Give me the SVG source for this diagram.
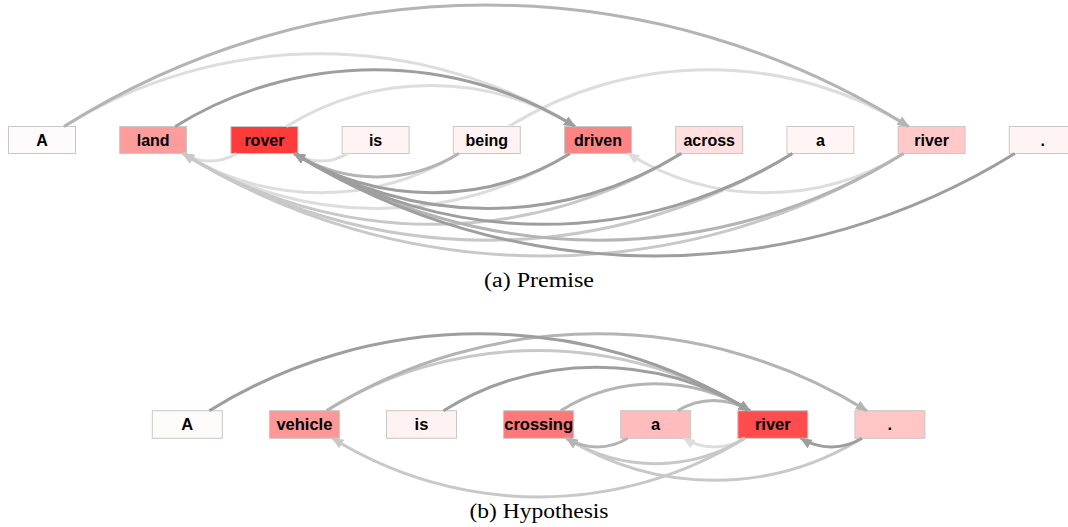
<svg xmlns="http://www.w3.org/2000/svg" width="1068" height="527" viewBox="0 0 1068 527">
<style>
.box{stroke:#c8c8c8;stroke-width:1}
.lbl{font-family:"Liberation Sans",Arial,sans-serif;font-weight:bold;font-size:16px;text-anchor:middle;fill:#000}
.lblh{font-family:"Liberation Sans",Arial,sans-serif;font-weight:bold;font-size:16.5px;text-anchor:middle;fill:#000}
.cap{font-family:"Liberation Serif","Times New Roman",serif;font-size:20px;text-anchor:middle;fill:#000}
.e{fill:none;stroke-width:3}
.c1{stroke:#9e9e9e;marker-end:url(#m1)}
.c2{stroke:#b4b4b4;marker-end:url(#m2)}
.c3{stroke:#c8c8c8;marker-end:url(#m3)}
.c4{stroke:#dddddd;marker-end:url(#m4)}
</style>
<defs>
<marker id="m1" viewBox="0 0 12 10" refX="11" refY="5" markerWidth="12" markerHeight="10" markerUnits="userSpaceOnUse" orient="auto"><path d="M0,0 L12,5 L0,10 z" fill="#9e9e9e"/></marker>
<marker id="m2" viewBox="0 0 12 10" refX="11" refY="5" markerWidth="12" markerHeight="10" markerUnits="userSpaceOnUse" orient="auto"><path d="M0,0 L12,5 L0,10 z" fill="#b4b4b4"/></marker>
<marker id="m3" viewBox="0 0 12 10" refX="11" refY="5" markerWidth="12" markerHeight="10" markerUnits="userSpaceOnUse" orient="auto"><path d="M0,0 L12,5 L0,10 z" fill="#c8c8c8"/></marker>
<marker id="m4" viewBox="0 0 12 10" refX="11" refY="5" markerWidth="12" markerHeight="10" markerUnits="userSpaceOnUse" orient="auto"><path d="M0,0 L12,5 L0,10 z" fill="#dddddd"/></marker>
</defs>
<rect width="1068" height="527" fill="#fff"/>

<g id="premise-nodes">
<g id="p0"><rect class="box" x="8.5" y="126.5" width="67" height="27" fill="#fdfbfb"/><text class="lbl" x="42" y="145.8">A</text></g>
<g id="p1"><rect class="box" x="119.7" y="126.5" width="67" height="27" fill="#fc9c9c"/><text class="lbl" x="153.2" y="145.8">land</text></g>
<g id="p2"><rect class="box" x="230.9" y="126.5" width="67" height="27" fill="#ff3a3a"/><text class="lbl" x="264.4" y="145.8">rover</text></g>
<g id="p3"><rect class="box" x="342.1" y="126.5" width="67" height="27" fill="#fff3f3"/><text class="lbl" x="375.6" y="145.8">is</text></g>
<g id="p4"><rect class="box" x="453.3" y="126.5" width="67" height="27" fill="#fff2f2"/><text class="lbl" x="486.8" y="145.8">being</text></g>
<g id="p5"><rect class="box" x="564.5" y="126.5" width="67" height="27" fill="#fb8585"/><text class="lbl" x="598" y="145.8">driven</text></g>
<g id="p6"><rect class="box" x="675.7" y="126.5" width="67" height="27" fill="#ffdfdf"/><text class="lbl" x="709.2" y="145.8">across</text></g>
<g id="p7"><rect class="box" x="786.9" y="126.5" width="67" height="27" fill="#fff5f5"/><text class="lbl" x="820.4" y="145.8">a</text></g>
<g id="p8"><rect class="box" x="898.1" y="126.5" width="67" height="27" fill="#ffc9c9"/><text class="lbl" x="931.6" y="145.8">river</text></g>
<g id="p9"><rect class="box" x="1009.3" y="126.5" width="67" height="27" fill="#fff4f4"/><text class="lbl" x="1042.8" y="145.8">.</text></g>
</g>

<g id="premise-connectors">
<path class="e c4" d="M64,126.5 A485.5,485.5 0 0,1 575,126.5"/>
<path class="e c4" d="M286.4,126.5 A274.2,274.2 0 0,1 575,126.5"/>
<path class="e c4" d="M508.8,126.5 A379.8,379.8 0 0,1 908.6,126.5"/>
<path class="e c4" d="M236.4,153.5 A50.5,50.5 0 0,1 183.2,153.5"/>
<path class="e c4" d="M347.6,153.5 A50.5,50.5 0 0,1 294.4,153.5"/>
<path class="e c4" d="M458.8,153.5 A261.8,261.8 0 0,1 183.2,153.5"/>
<path class="e c4" d="M570,153.5 A367.5,367.5 0 0,1 183.2,153.5"/>
<path class="e c3" d="M681.2,153.5 A473.1,473.1 0 0,1 183.2,153.5"/>
<path class="e c3" d="M792.4,153.5 A578.7,578.7 0 0,1 183.2,153.5"/>
<path class="e c4" d="M903.6,153.5 A261.8,261.8 0 0,1 628,153.5"/>
<path class="e c3" d="M903.6,153.5 A684.4,684.4 0 0,1 183.2,153.5"/>
<path class="e c2" d="M64,126.5 A795,795 0 0,1 908.6,126.5"/>
<path class="e c2" d="M458.8,153.5 A156.2,156.2 0 0,1 294.4,153.5"/>
<path class="e c2" d="M903.6,153.5 A578.7,578.7 0 0,1 294.4,153.5"/>
<path class="e c1" d="M175.2,126.5 A379.8,379.8 0 0,1 575,126.5"/>
<path class="e c1" d="M570,153.5 A261.8,261.8 0 0,1 294.4,153.5"/>
<path class="e c1" d="M681.2,153.5 A367.5,367.5 0 0,1 294.4,153.5"/>
<path class="e c1" d="M792.4,153.5 A473.1,473.1 0 0,1 294.4,153.5"/>
<path class="e c1" d="M1014.8,153.5 A684.4,684.4 0 0,1 294.4,153.5"/>
</g>

<text class="cap" x="539" y="287" textLength="110" lengthAdjust="spacingAndGlyphs">(a) Premise</text>

<g id="hypothesis-nodes">
<g id="h0"><rect class="box" x="152.3" y="410.7" width="70" height="27.6" fill="#fffbfb"/><text class="lblh" x="187.3" y="430.3">A</text></g>
<g id="h1"><rect class="box" x="269.4" y="410.7" width="70" height="27.6" fill="#fd9898"/><text class="lblh" x="304.4" y="430.3">vehicle</text></g>
<g id="h2"><rect class="box" x="386.5" y="410.7" width="70" height="27.6" fill="#fff2f2"/><text class="lblh" x="421.5" y="430.3">is</text></g>
<g id="h3"><rect class="box" x="503.6" y="410.7" width="70" height="27.6" fill="#fd7878"/><text class="lblh" x="538.6" y="430.3">crossing</text></g>
<g id="h4"><rect class="box" x="620.7" y="410.7" width="70" height="27.6" fill="#ffbcbc"/><text class="lblh" x="655.7" y="430.3">a</text></g>
<g id="h5"><rect class="box" x="737.8" y="410.7" width="70" height="27.6" fill="#ff4c4c"/><text class="lblh" x="772.8" y="430.3">river</text></g>
<g id="h6"><rect class="box" x="854.9" y="410.7" width="70" height="27.6" fill="#ffc6c6"/><text class="lblh" x="889.9" y="430.3">.</text></g>
</g>

<g id="hypothesis-connectors">
<path class="e c4" d="M744.8,438.3 A58,58 0 0,1 683.7,438.3"/>
<path class="e c3" d="M326.4,410.7 A402.2,402.2 0 0,1 749.8,410.7"/>
<path class="e c3" d="M744.8,438.3 A169.3,169.3 0 0,1 566.6,438.3"/>
<path class="e c3" d="M861.9,438.3 A280.5,280.5 0 0,1 566.6,438.3"/>
<path class="e c3" d="M744.8,438.3 A391.8,391.8 0 0,1 332.4,438.3"/>
<path class="e c2" d="M677.7,410.7 A68.5,68.5 0 0,1 749.8,410.7"/>
<path class="e c2" d="M560.6,410.7 A179.7,179.7 0 0,1 749.8,410.7"/>
<path class="e c2" d="M326.4,410.7 A513.5,513.5 0 0,1 866.9,410.7"/>
<path class="e c2" d="M627.7,438.3 A58,58 0 0,1 566.6,438.3"/>
<path class="e c1" d="M209.3,410.7 A513.5,513.5 0 0,1 749.8,410.7"/>
<path class="e c1" d="M443.5,410.7 A291,291 0 0,1 749.8,410.7"/>
<path class="e c1" d="M861.9,438.3 A58,58 0 0,1 800.8,438.3"/>
</g>

<text class="cap" x="539" y="518" textLength="139" lengthAdjust="spacingAndGlyphs">(b) Hypothesis</text>
</svg>
